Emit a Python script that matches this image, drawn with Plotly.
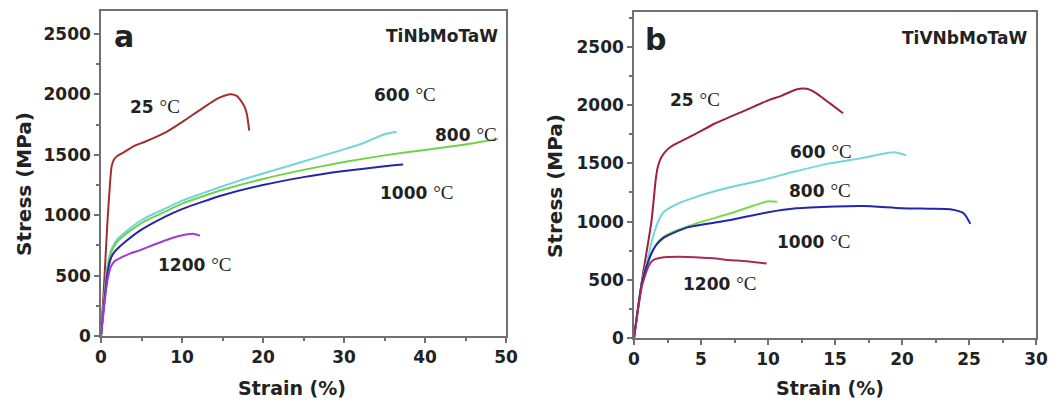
import plotly.graph_objects as go

# ---------------- Panel a: TiNbMoTaW ----------------
a_25_x = [0, 0.4, 0.8, 1.1, 1.3, 1.6, 2.0, 2.8, 4.0, 5.5, 8.1, 10.0, 12.2, 14.0, 14.7, 15.5, 16.1, 16.8, 17.2, 17.7, 18.0, 18.3]
a_25_y = [0, 450, 950, 1250, 1400, 1460, 1490, 1520, 1570, 1610, 1690, 1770, 1870, 1950, 1975, 1995, 2000, 1985, 1955, 1900, 1840, 1700]

a_600_x = [0, 0.4, 0.8, 1.2, 1.6, 2.0, 3.2, 5.0, 8.1, 10.0, 12.5, 15.0, 17.5, 20.0, 22.5, 25.0, 27.5, 30.0, 32.5, 35.0, 36.5]
a_600_y = [0, 320, 580, 700, 760, 800, 870, 960, 1060, 1120, 1180, 1240, 1295, 1345, 1395, 1445, 1495, 1545, 1600, 1670, 1690]

a_800_x = [0, 0.4, 0.8, 1.2, 1.6, 2.0, 3.2, 5.0, 8.1, 10.0, 12.5, 15.0, 20.0, 25.0, 30.0, 35.0, 40.0, 45.0, 49.0]
a_800_y = [0, 310, 560, 680, 740, 780, 850, 935, 1035, 1095, 1155, 1210, 1300, 1375, 1440, 1495, 1540, 1585, 1630]

a_1000_x = [0, 0.4, 0.8, 1.2, 1.6, 2.0, 3.0, 5.0, 8.0, 10.0, 12.5, 15.0, 20.0, 25.0, 30.0, 35.0, 37.3]
a_1000_y = [0, 280, 520, 640, 690, 720, 780, 880, 990, 1050, 1110, 1165, 1250, 1315, 1365, 1405, 1420]

a_1200_x = [0, 0.4, 0.8, 1.2, 1.7, 2.5, 3.5, 5.0, 6.5, 8.1, 9.5, 10.5, 11.5, 12.2]
a_1200_y = [0, 250, 460, 570, 620, 650, 680, 715, 755, 795, 825, 840, 845, 830]

# ---------------- Panel b: TiVNbMoTaW ----------------
b_25_x = [0, 0.6, 1.3, 1.64, 1.8, 2.07, 2.5, 3.0, 4.7, 6.0, 8.4, 10.1, 11.0, 12.1, 12.9, 13.5, 14.1, 14.8, 15.6]
b_25_y = [0, 500, 1000, 1380, 1480, 1558, 1620, 1660, 1760, 1840, 1960, 2045, 2080, 2135, 2140, 2110, 2060, 2000, 1930]

b_600_x = [0, 0.6, 1.1, 1.44, 1.8, 2.2, 3.0, 4.7, 7.0, 9.6, 12.0, 14.6, 17.0, 19.4, 20.3]
b_600_y = [0, 480, 720, 880, 1000, 1080, 1140, 1214, 1290, 1357, 1430, 1500, 1545, 1595, 1570]

b_800_x = [0, 0.6, 1.2, 1.9, 2.7, 4.7, 7.2, 9.0, 10.0, 10.7]
b_800_y = [0, 480, 700, 840, 900, 985, 1071, 1140, 1175, 1170]

b_1000_x = [0, 0.6, 1.2, 1.6, 2.2, 4.0, 7.2, 10.0, 12.1, 15.0, 17.1, 20.0, 22.1, 23.6, 24.6, 25.1]
b_1000_y = [0, 480, 700, 790, 860, 950, 1014, 1080, 1114, 1130, 1134, 1115, 1110, 1105, 1071, 980]

b_1200_x = [0, 0.6, 1.1, 1.44, 2.0, 3.4, 5.9, 7.0, 8.4, 9.9]
b_1200_y = [0, 450, 620, 670, 690, 698, 684, 670, 660, 640]

temps = ["25", "600", "800", "1000", "1200"]
colors_a = ["#a03030", "#6fd6dc", "#6fd24a", "#2424b0", "#a03ad0"]
colors_b = ["#a0203c", "#6fd6dc", "#7cd84e", "#2424b0", "#a8285a"]

xticks_a = [0, 10, 20, 30, 40, 50]
xticks_b = [0, 5, 10, 15, 20, 25, 30]
yticks = [0, 500, 1000, 1500, 2000, 2500]

panel_a = [(a_25_x, a_25_y), (a_600_x, a_600_y), (a_800_x, a_800_y), (a_1000_x, a_1000_y), (a_1200_x, a_1200_y)]
panel_b = [(b_25_x, b_25_y), (b_600_x, b_600_y), (b_800_x, b_800_y), (b_1000_x, b_1000_y), (b_1200_x, b_1200_y)]

# label positions (data coordinates)
lab_a = [(6.7, 1896), (37.5, 1995), (45.1, 1664), (39.0, 1184), (11.6, 588)]
lab_b = [(4.55, 2045), (13.95, 1598), (13.9, 1263), (13.4, 833), (6.4, 472)]

FONT = "DejaVu Sans"
fig = go.Figure()

for (x, y), c, t in zip(panel_a, colors_a, temps):
    fig.add_trace(go.Scatter(x=x, y=y, mode="lines", line=dict(color=c, width=2, shape="spline", smoothing=0.6),
                             name=t + " °C", xaxis="x", yaxis="y", showlegend=False))
for (x, y), c, t in zip(panel_b, colors_b, temps):
    fig.add_trace(go.Scatter(x=x, y=y, mode="lines", line=dict(color=c, width=2, shape="spline", smoothing=0.6),
                             name=t + " °C", xaxis="x2", yaxis="y2", showlegend=False))

ann = []
def temp_text(t):
    return ("<b>" + t + " </b><span style='font-family:Liberation Serif;font-weight:normal;"
            "font-size:19px'>°C</span>")

for (lx, ly), t in zip(lab_a, temps):
    ann.append(dict(x=lx, y=ly, xref="x", yref="y", text=temp_text(t), showarrow=False,
                    xanchor="center", yanchor="middle",
                    font=dict(family=FONT, size=17, color="#222")))
for (lx, ly), t in zip(lab_b, temps):
    ann.append(dict(x=lx, y=ly, xref="x2", yref="y2", text=temp_text(t), showarrow=False,
                    xanchor="center", yanchor="middle",
                    font=dict(family=FONT, size=17, color="#222")))

ann += [
    dict(x=2.9, y=2480, xref="x", yref="y", text="<b>a</b>", showarrow=False,
         xanchor="center", yanchor="middle", font=dict(family=FONT, size=30, color="#222")),
    dict(x=49.3, y=2480, xref="x", yref="y", text="<b>TiNbMoTaW</b>", showarrow=False, xanchor="right",
         yanchor="middle", font=dict(family=FONT, size=17, color="#222")),
    dict(x=1.6, y=2560, xref="x2", yref="y2", text="<b>b</b>", showarrow=False,
         xanchor="center", yanchor="middle", font=dict(family=FONT, size=30, color="#222")),
    dict(x=29.5, y=2577, xref="x2", yref="y2", text="<b>TiVNbMoTaW</b>", showarrow=False, xanchor="right",
         yanchor="middle", font=dict(family=FONT, size=17, color="#222")),
    # axis titles
    dict(x=292 / 1064, y=1 - 388 / 403, xref="paper", yref="paper", text="<b>Strain (%)</b>", showarrow=False,
         xanchor="center", yanchor="middle", font=dict(family=FONT, size=19, color="#222")),
    dict(x=830 / 1064, y=1 - 388 / 403, xref="paper", yref="paper", text="<b>Strain (%)</b>", showarrow=False,
         xanchor="center", yanchor="middle", font=dict(family=FONT, size=19, color="#222")),
    dict(x=24 / 1064, y=1 - 184 / 403, xref="paper", yref="paper", text="<b>Stress (MPa)</b>", showarrow=False,
         xanchor="center", yanchor="middle", textangle=-90, font=dict(family=FONT, size=20, color="#222")),
    dict(x=555 / 1064, y=1 - 186 / 403, xref="paper", yref="paper", text="<b>Stress (MPa)</b>", showarrow=False,
         xanchor="center", yanchor="middle", textangle=-90, font=dict(family=FONT, size=20, color="#222")),
]

axis_common = dict(showline=True, linecolor="#707070", linewidth=1.5, mirror=True, ticks="outside",
                   ticklen=5, tickwidth=1.5, tickcolor="#707070", showgrid=False, zeroline=False,
                   automargin=False, tickfont=dict(family=FONT, size=17, color="#222"))

fig.update_layout(
    width=1064, height=403, margin=dict(l=0, r=0, t=0, b=0, autoexpand=False),
    paper_bgcolor="white", plot_bgcolor="white", showlegend=False,
    annotations=ann,
    xaxis=dict(domain=[101 / 1064, 506 / 1064], range=[0, 50], tickvals=xticks_a,
               ticktext=[f"<b>{v}</b>" for v in xticks_a],
               minor=dict(dtick=5, ticks="outside", ticklen=3, tickcolor="#707070"), anchor="y", **axis_common),
    yaxis=dict(domain=[1 - 336 / 403, 1 - 11 / 403], range=[0, 2690], tickvals=yticks,
               ticktext=[f"<b>{v}</b>" for v in yticks],
               minor=dict(dtick=250, ticks="outside", ticklen=3, tickcolor="#707070"), anchor="x", **axis_common),
    xaxis2=dict(domain=[634 / 1064, 1036 / 1064], range=[0, 30], tickvals=xticks_b,
                ticktext=[f"<b>{v}</b>" for v in xticks_b],
                minor=dict(dtick=2.5, ticks="outside", ticklen=3, tickcolor="#707070"), anchor="y2", **axis_common),
    yaxis2=dict(domain=[1 - 338 / 403, 1 - 12 / 403], range=[0, 2800], tickvals=yticks,
                ticktext=[f"<b>{v}</b>" for v in yticks],
                minor=dict(dtick=250, ticks="outside", ticklen=3, tickcolor="#707070"), anchor="x2", **axis_common),
)

fig.write_html("out.html")
